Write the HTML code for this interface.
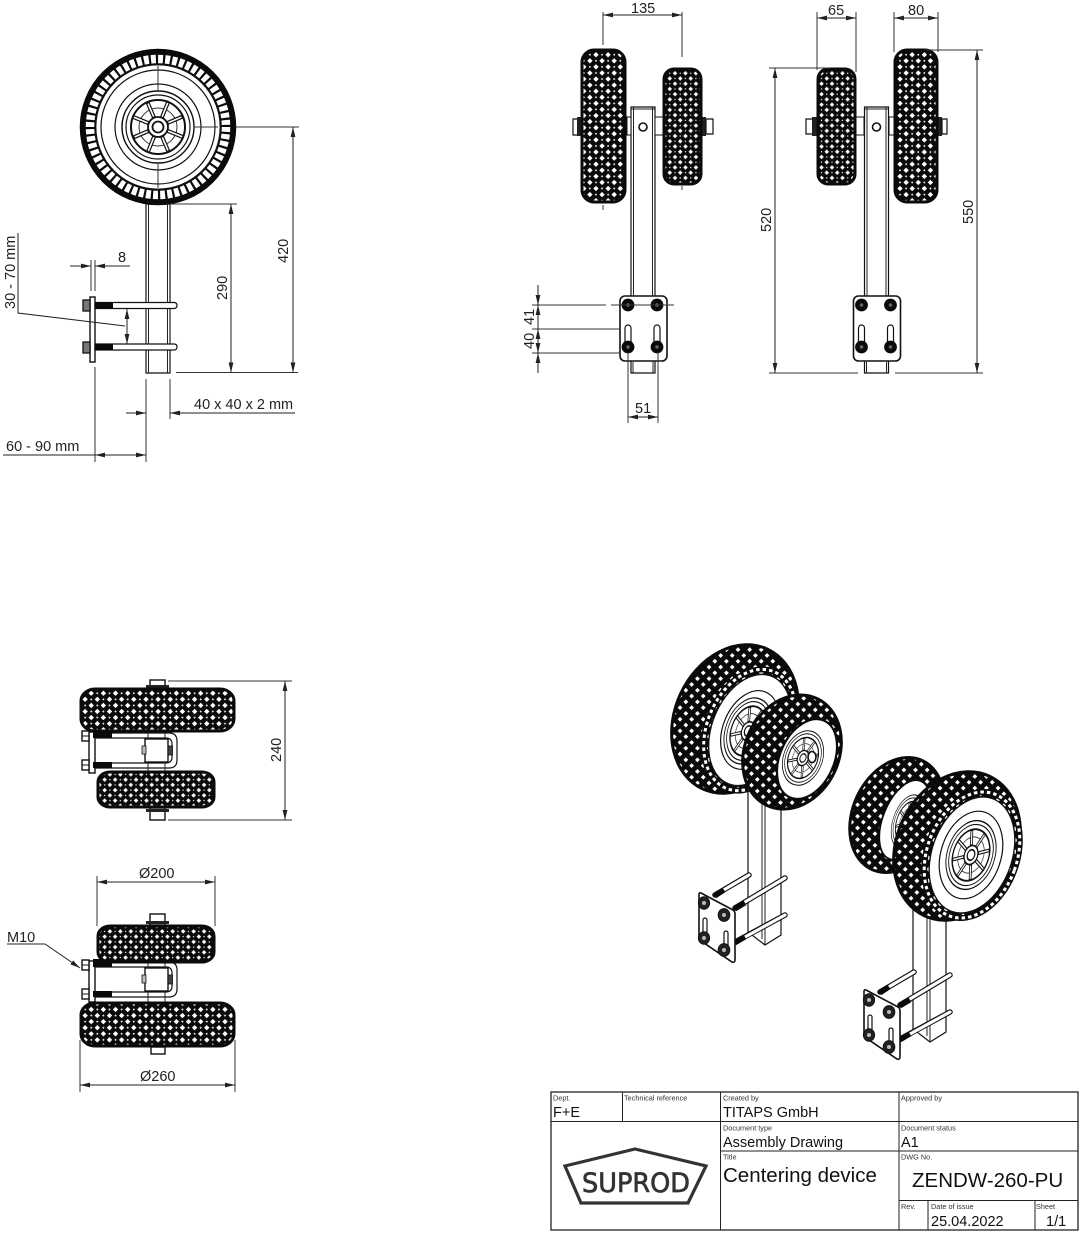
<!DOCTYPE html>
<html><head><meta charset="utf-8"><style>
html,body{margin:0;padding:0;background:#fff}
svg{display:block;filter:blur(.3px)}
text{font-family:"Liberation Sans",sans-serif;fill:#222}
.d{font-size:14.5px}
.s{font-size:7.3px;fill:#333}
.m{font-size:14.5px;fill:#111}
.l{stroke:#333;stroke-width:1;fill:none}
.t{stroke:#222;stroke-width:1;fill:none}
.o{stroke:#111;stroke-width:1.2;fill:#fff}
</style></head><body>
<svg width="1080" height="1233" viewBox="0 0 1080 1233" xmlns="http://www.w3.org/2000/svg">
<defs>
<marker id="a" markerUnits="userSpaceOnUse" markerWidth="10" markerHeight="6" refX="10" refY="3" orient="auto-start-reverse"><path d="M0 .6L10 3L0 5.4Z" fill="#222"/></marker>
<pattern id="pb" width="8.6" height="8.6" patternUnits="userSpaceOnUse" patternTransform="rotate(45)"><rect width="8.6" height="8.6" fill="#0a0a0a"/><rect x="2.4" y="2.4" width="3.8" height="3.8" fill="#fff"/><rect width=".8" height=".8" fill="#fff"/><rect x="7.8" width=".8" height=".8" fill="#fff"/><rect y="7.8" width=".8" height=".8" fill="#fff"/><rect x="7.8" y="7.8" width=".8" height=".8" fill="#fff"/></pattern>
<pattern id="ps" width="7.4" height="7.4" patternUnits="userSpaceOnUse" patternTransform="rotate(45)"><rect width="7.4" height="7.4" fill="#0a0a0a"/><rect x="2.1" y="2.1" width="3.2" height="3.2" fill="#fff"/><rect width=".6" height=".6" fill="#fff"/><rect x="6.8" width=".6" height=".6" fill="#fff"/><rect y="6.8" width=".6" height=".6" fill="#fff"/><rect x="6.8" y="6.8" width=".6" height=".6" fill="#fff"/></pattern>
<pattern id="pi" width="8.2" height="8.2" patternUnits="userSpaceOnUse" patternTransform="rotate(20)"><rect width="8.2" height="8.2" fill="#0a0a0a"/><rect x="2.4" y="2.4" width="3.4" height="3.4" fill="#fff"/></pattern>
<g id="hub">
<circle r="36" fill="#fff" stroke="#111" stroke-width="1.4"/><circle r="32" fill="none" stroke="#111" stroke-width="1.2"/>
<circle r="27" fill="#fff" stroke="#111" stroke-width="2"/><circle r="19" fill="none" stroke="#333" stroke-width="1"/>
<g transform="rotate(22)"><g stroke="#111" stroke-width="4"><path d="M0-10V-27M0 10V27M-10 0H-27M10 0H27M7-7L19-19M-7 7L-19 19M7 7L19 19M-7-7L-19-19"/></g>
<g stroke="#fff" stroke-width="1.6"><path d="M0-11V-26M0 11V26M-11 0H-26M11 0H26M8-8L18-18M-8 8L-18 18M8 8L18 18M-8-8L-18-18"/></g></g>
<circle r="10" fill="#fff" stroke="#111" stroke-width="1.8"/><circle r="5.5" fill="#fff" stroke="#111" stroke-width="1.8"/>
</g>
<g id="stand">
<path class="o" d="M631 107H655V373H631Z" stroke-width="1.5"/>
<path class="t" d="M633.500 107V296M652.500 107V296M631 109H655M633 362V373M653 362V373"/>
<rect x="620" y="296" width="47" height="65" rx="5" fill="#fff" stroke="#111" stroke-width="1.6"/>
<rect x="625" y="325" width="6" height="20" rx="3" fill="#fff" stroke="#111" stroke-width="1.2"/>
<rect x="654" y="325" width="6" height="20" rx="3" fill="#fff" stroke="#111" stroke-width="1.2"/>
<g fill="#0a0a0a"><circle cx="628" cy="305" r="6.4"/><circle cx="657" cy="305" r="6.4"/><circle cx="628" cy="347" r="6.4"/><circle cx="657" cy="347" r="6.4"/></g>
<g fill="#666"><circle cx="628" cy="305" r="1.8"/><circle cx="657" cy="305" r="1.8"/><circle cx="628" cy="347" r="1.8"/><circle cx="657" cy="347" r="1.8"/></g>
<circle cx="643" cy="127" r="4" fill="#fff" stroke="#111" stroke-width="1.6"/>
</g>
<g id="plan">
<rect x="89" y="0" width="6" height="41" fill="#fff" stroke="#111" stroke-width="1.4"/>
<rect x="82" y="-1" width="7" height="10" fill="#fff" stroke="#111" stroke-width="1.4"/><rect x="82" y="28" width="7" height="10" fill="#fff" stroke="#111" stroke-width="1.4"/>
<path d="M82 4H89M82 33H89" stroke="#111"/>
<path class="o" d="M95 1H169Q177 1 177 9V28Q177 36 169 36H95V31H166Q172 31 172 25V12Q172 6 166 6H95Z"/>
<rect x="93" y="-2" width="19" height="8" fill="#0a0a0a"/><rect x="93" y="30" width="19" height="6" fill="#0a0a0a"/>
<rect x="145" y="7" width="23" height="23" fill="#fff" stroke="#111" stroke-width="1.4"/>
<path class="t" d="M148-4V7M165-4V7M148 30V42M165 30V42"/>
<rect x="142" y="14" width="4" height="8" fill="#bbb" stroke="#111" stroke-width=".8"/><rect x="168" y="14" width="4.500" height="9" fill="#444" stroke="#111" stroke-width=".8"/>
</g>
<g id="iso">
<path class="o" d="M748 790V932L765 945L781 935V790Z" stroke-width="1.4"/>
<path class="t" d="M762 800V939M765 800V944"/>
<g stroke="#111" stroke-width="5.5" stroke-linecap="round" fill="none"><path d="M715 895L749 875"/><path d="M735 908L785 878"/><path d="M735 942L785 915"/></g>
<g stroke="#fff" stroke-width="3.2" stroke-linecap="round" fill="none"><path d="M722 891L749 875"/><path d="M745 902L785 878"/><path d="M745 937L785 915"/></g>
<path d="M715 896L724 890M735 909L745 903M735 943L745 937" stroke="#0a0a0a" stroke-width="5" fill="none"/>
<path d="M701 893L733 910Q735 911 735 914L735 960Q735 963 732 962L701 941Q699 940 699 938L699 895Q699 892 701 893Z" fill="#fff" stroke="#111" stroke-width="1.6"/>
<rect x="703" y="918" width="4" height="18" rx="2" fill="#fff" stroke="#111" stroke-width="1.2"/><rect x="724" y="931" width="4" height="18" rx="2" fill="#fff" stroke="#111" stroke-width="1.2"/>
<g fill="#222" stroke="#111" stroke-width="1"><ellipse cx="704" cy="903" rx="5.6" ry="6.2"/><ellipse cx="724" cy="915" rx="5.8" ry="6.4"/><ellipse cx="704" cy="938" rx="5.6" ry="6.2"/><ellipse cx="724" cy="950" rx="5.8" ry="6.4"/></g>
<g fill="#bbb"><circle cx="704" cy="903" r="2"/><circle cx="724" cy="915" r="2"/><circle cx="704" cy="938" r="2"/><circle cx="724" cy="950" r="2"/></g>
</g>
</defs>

<rect width="1080" height="1233" fill="#fff"/>

<!-- VIEW 1 side -->
<path class="o" d="M146 204H170V373H146Z" stroke-width="1.4"/><path class="t" d="M148.500 204V373M167.500 204V373"/>
<circle cx="158" cy="127" r="75" fill="none" stroke="#0a0a0a" stroke-width="6.500"/>
<circle cx="158" cy="127" r="68" fill="none" stroke="#0a0a0a" stroke-width="10"/>
<circle cx="158" cy="127" r="68" fill="none" stroke="#fff" stroke-width="8.500" stroke-dasharray="4.900 2.220"/>
<circle cx="158" cy="127" r="62.500" fill="#fff" stroke="#111" stroke-width="1.8"/>
<circle cx="158" cy="127" r="57" fill="none" stroke="#111" stroke-width="1.2"/>
<circle cx="158" cy="127" r="43" fill="none" stroke="#111" stroke-width="1.2"/>
<use href="#hub" x="158" y="127"/>
<path class="l" d="M158 66V91M158 163V188M194 127H218"/>
<g>
<rect x="90" y="297" width="5" height="65" fill="#fff" stroke="#111" stroke-width="1.4"/>
<rect x="83" y="300" width="7" height="11" fill="#777" stroke="#111" stroke-width="1.3"/><rect x="83" y="342" width="7" height="11" fill="#777" stroke="#111" stroke-width="1.3"/>
<path class="o" d="M95 302.500H174Q177 302.500 177 305.500Q177 308.500 174 308.500H95Z"/>
<path class="o" d="M95 344H174Q177 344 177 347Q177 350 174 350H95Z"/>
<rect x="95" y="302.500" width="18" height="6" fill="#0a0a0a"/><rect x="95" y="344" width="18" height="6" fill="#0a0a0a"/>
<path class="t" d="M146 309V344M170 309V344"/>
</g>
<!-- View 1 dims -->
<path class="l" d="M236 127H299M176 372.500H298M170 204H237M91 260V291M95 260V291"/>
<path class="t" d="M293 127V372.500" marker-start="url(#a)" marker-end="url(#a)"/>
<path class="t" d="M231 204V372.500" marker-start="url(#a)" marker-end="url(#a)"/>
<text class="d" transform="translate(288,263) rotate(-90)">420</text>
<text class="d" transform="translate(227,300) rotate(-90)">290</text>
<path class="t" d="M70 266H91" marker-end="url(#a)"/><path class="t" d="M130 266H95" marker-end="url(#a)"/>
<text class="d" x="118" y="262">8</text>
<path class="t" d="M18 233V313L125 326"/>
<path class="t" d="M127 309V344" marker-start="url(#a)" marker-end="url(#a)"/>
<text class="d" transform="translate(15,309) rotate(-90)">30 - 70 mm</text>
<path class="l" d="M146 379V462M170 379V419M95 367V462"/>
<path class="t" d="M126 413H146" marker-end="url(#a)"/><path class="t" d="M295 413H170" marker-end="url(#a)"/>
<text class="d" x="194" y="409">40 x 40 x 2 mm</text>
<path class="t" d="M3 455H95"/><path class="t" d="M95 455H146" marker-start="url(#a)" marker-end="url(#a)"/>
<text class="d" x="6" y="451">60 - 90 mm</text>

<!-- VIEW 2 front -->
<use href="#stand"/>
<rect x="627" y="117" width="4" height="18" fill="#fff" stroke="#111"/><rect x="655" y="117" width="8" height="18" fill="#fff" stroke="#111"/>
<path class="o" d="M573 119H578V135H573Z" stroke-width="1.5"/><path d="M577 117H582V136H577Z" fill="#222"/>
<path d="M702 117H706V136H702Z" fill="#222"/><path class="o" d="M706 119H713V134H706Z" stroke-width="1.5"/>
<rect x="582" y="50" width="43" height="152" rx="12" ry="12" fill="url(#pb)" stroke="#0a0a0a" stroke-width="3"/>
<rect x="664" y="69" width="37" height="115" rx="10" ry="10" fill="url(#ps)" stroke="#0a0a0a" stroke-width="3"/>
<path class="l" d="M603 12V45M603 205V210M682 12V57M682 186V190"/>
<path class="t" d="M603 15H682" marker-start="url(#a)" marker-end="url(#a)"/>
<text class="d" x="631" y="13">135</text>
<path class="l" d="M532 305H606M611 305H674M532 329H620M532 353H620"/>
<path class="t" d="M538 285V305" marker-end="url(#a)"/><path class="t" d="M538 329V305" marker-end="url(#a)"/><path class="t" d="M538 329V353" marker-start="url(#a)" marker-end="url(#a)"/><path class="t" d="M538 373V353" marker-end="url(#a)"/>
<text class="d" transform="translate(534,325) rotate(-90)">41</text>
<text class="d" transform="translate(534,349) rotate(-90)">40</text>
<path class="l" d="M628 352V423M658 352V423"/>
<path class="t" d="M628 417H658" marker-start="url(#a)" marker-end="url(#a)"/>
<text class="d" x="635" y="413">51</text>

<!-- VIEW 3 front -->
<use href="#stand" x="233.500"/>
<rect x="856" y="117" width="8" height="18" fill="#fff" stroke="#111"/><rect x="889" y="117" width="5" height="18" fill="#fff" stroke="#111"/>
<path class="o" d="M806 119H813V134H806Z" stroke-width="1.5"/><path d="M812 117H817V136H812Z" fill="#222"/>
<path d="M938 117H942V136H938Z" fill="#222"/><path class="o" d="M942 119H947V134H942Z" stroke-width="1.5"/>
<rect x="818" y="69" width="37" height="115" rx="10" ry="10" fill="url(#ps)" stroke="#0a0a0a" stroke-width="3"/>
<rect x="895" y="50" width="42" height="152" rx="12" ry="12" fill="url(#pb)" stroke="#0a0a0a" stroke-width="3"/>
<path class="l" d="M817 12V70M856 12V72M894 12V52M938 12V52"/>
<path class="t" d="M817 18H856" marker-start="url(#a)" marker-end="url(#a)"/>
<path class="t" d="M894 18H938" marker-start="url(#a)" marker-end="url(#a)"/>
<text class="d" x="828" y="15">65</text><text class="d" x="908" y="15">80</text>
<path class="l" d="M769 68H830M769 373H858M925 50H983M895 373H983"/>
<path class="t" d="M775 68V373" marker-start="url(#a)" marker-end="url(#a)"/>
<path class="t" d="M977 50V373" marker-start="url(#a)" marker-end="url(#a)"/>
<text class="d" transform="translate(771,232) rotate(-90)">520</text>
<text class="d" transform="translate(973,224) rotate(-90)">550</text>

<!-- VIEW 4 top -->
<use href="#plan" y="732"/>
<g><rect x="150" y="680" width="15" height="8" fill="#fff" stroke="#111" stroke-width="1.4"/><rect x="146" y="685" width="23" height="3" fill="#222"/>
<rect x="150" y="808" width="15" height="12" fill="#fff" stroke="#111" stroke-width="1.4"/><rect x="146" y="809" width="23" height="3" fill="#222"/></g>
<rect x="81" y="689" width="153" height="42" rx="14" ry="12" fill="url(#pb)" stroke="#0a0a0a" stroke-width="3"/>
<rect x="98" y="772" width="116" height="35" rx="12" ry="10" fill="url(#ps)" stroke="#0a0a0a" stroke-width="3"/>
<path class="l" d="M168 681H292M168 820H292"/>
<path class="t" d="M285 681V820" marker-start="url(#a)" marker-end="url(#a)"/>
<text class="d" transform="translate(281,762) rotate(-90)">240</text>

<!-- VIEW 5 bottom -->
<use href="#plan" y="961"/>
<g><rect x="150" y="914" width="15" height="11" fill="#fff" stroke="#111" stroke-width="1.4"/><rect x="146" y="921" width="23" height="3" fill="#222"/>
<rect x="151" y="1047" width="14" height="7" fill="#fff" stroke="#111" stroke-width="1.4"/></g>
<rect x="98" y="926" width="116" height="36" rx="12" ry="10" fill="url(#ps)" stroke="#0a0a0a" stroke-width="3"/>
<rect x="81" y="1003" width="153" height="43" rx="14" ry="12" fill="url(#pb)" stroke="#0a0a0a" stroke-width="3"/>
<path class="l" d="M97 876V926M215 876V926M80 1040V1092M235 1040V1092"/>
<path class="t" d="M97 882H215" marker-start="url(#a)" marker-end="url(#a)"/>
<path class="t" d="M80 1085H235" marker-start="url(#a)" marker-end="url(#a)"/>
<text class="d" x="139" y="878">Ø200</text><text class="d" x="140" y="1081">Ø260</text>
<path class="t" d="M7 944H45L80 968" marker-end="url(#a)"/>
<text class="d" x="7" y="942">M10</text>

<!-- ISO unit 1 -->
<use href="#iso"/>
<ellipse cx="735" cy="719" rx="60" ry="77" transform="rotate(25 735 719)" fill="url(#pi)" stroke="#0a0a0a" stroke-width="3"/>
<ellipse cx="750" cy="730" rx="43" ry="63" transform="rotate(22 750 730)" fill="none" stroke="#0a0a0a" stroke-width="6"/>
<ellipse cx="750" cy="730" rx="43" ry="63" transform="rotate(22 750 730)" fill="none" stroke="#fff" stroke-width="3" stroke-dasharray="3.500 3"/>
<ellipse cx="750" cy="730" rx="38" ry="58" transform="rotate(22 750 730)" fill="#fff" stroke="#111" stroke-width="1.4"/>
<ellipse cx="750" cy="730" rx="27" ry="41" transform="rotate(22 750 730)" fill="none" stroke="#111" stroke-width="1.2"/>
<use href="#hub" transform="translate(748 731) rotate(20) scale(.62 .95)"/>
<ellipse cx="792" cy="752" rx="47" ry="59" transform="rotate(25 792 752)" fill="url(#pi)" stroke="#0a0a0a" stroke-width="3"/>
<ellipse cx="807" cy="759" rx="27" ry="42" transform="rotate(24 807 759)" fill="#fff" stroke="#0a0a0a" stroke-width="2.200"/>
<use href="#hub" transform="translate(803 758) rotate(20) scale(.54 .78)"/>
<ellipse cx="812" cy="757" rx="4" ry="5.500" fill="#fff" stroke="#111" stroke-width="1.6"/>

<!-- ISO unit 2 -->
<use href="#iso" x="165" y="97"/>
<ellipse cx="897" cy="815" rx="44" ry="60" transform="rotate(25 897 815)" fill="url(#pi)" stroke="#0a0a0a" stroke-width="3"/>
<ellipse cx="905" cy="820" rx="22" ry="42" transform="rotate(22 905 820)" fill="#fff" stroke="#0a0a0a" stroke-width="1.8"/>
<use href="#hub" transform="translate(908 822) rotate(18) scale(.42 .78)"/>
<ellipse cx="957" cy="846" rx="60" ry="77" transform="rotate(25 957 846)" fill="url(#pi)" stroke="#0a0a0a" stroke-width="3"/>
<ellipse cx="972" cy="855" rx="45" ry="65" transform="rotate(20 972 855)" fill="none" stroke="#0a0a0a" stroke-width="6"/>
<ellipse cx="972" cy="855" rx="45" ry="65" transform="rotate(20 972 855)" fill="none" stroke="#fff" stroke-width="3" stroke-dasharray="3.500 3"/>
<ellipse cx="972" cy="855" rx="40" ry="60" transform="rotate(20 972 855)" fill="#fff" stroke="#111" stroke-width="1.4"/>
<ellipse cx="971" cy="855" rx="30" ry="45" transform="rotate(18 971 855)" fill="none" stroke="#111" stroke-width="1.2"/>
<use href="#hub" transform="translate(971 855) rotate(18) scale(.66 .98)"/>

<!-- TITLE BLOCK -->
<g stroke="#222" fill="none">
<rect x="551" y="1092" width="527" height="138" stroke-width="1.300"/>
<path d="M551 1121.500H1078M720.500 1151H1078M899 1200.500H1078M622.500 1092V1121.500M720.500 1092V1230M899 1092V1230M928 1200.500V1230M1035 1200.500V1230"/>
</g>
<text class="s" x="553" y="1100.500">Dept.</text><text class="m" x="553" y="1117">F+E</text>
<text class="s" x="624" y="1100.500">Technical reference</text>
<text class="s" x="723" y="1100.500">Created by</text><text class="m" x="723" y="1117">TITAPS GmbH</text>
<text class="s" x="901" y="1100.500">Approved by</text>
<text class="s" x="723" y="1130.500">Document type</text><text class="m" x="723" y="1147">Assembly Drawing</text>
<text class="s" x="901" y="1130.500">Document status</text><text class="m" x="901" y="1147">A1</text>
<text class="s" x="723" y="1159.500">Title</text><text x="723" y="1182" font-size="20.500" style="fill:#111">Centering device</text>
<text class="s" x="901" y="1159.500">DWG No.</text><text x="912" y="1187" font-size="20.500" style="fill:#111">ZENDW-260-PU</text>
<text class="s" x="901" y="1209">Rev.</text>
<text class="s" x="931" y="1209">Date of issue</text><text class="m" x="931" y="1226">25.04.2022</text>
<text class="s" x="1036" y="1209">Sheet</text><text class="m" x="1046" y="1226">1/1</text>
<path d="M565 1166L635 1149L706 1166L688 1203H581Z" fill="none" stroke="#333" stroke-width="3.200" stroke-linejoin="miter"/>
<text x="582" y="1192" font-size="27" textLength="108" lengthAdjust="spacingAndGlyphs" style="font-family:'DejaVu Sans',sans-serif;fill:#333;stroke:#333;stroke-width:.7">SUPROD</text>
</svg>
</body></html>
